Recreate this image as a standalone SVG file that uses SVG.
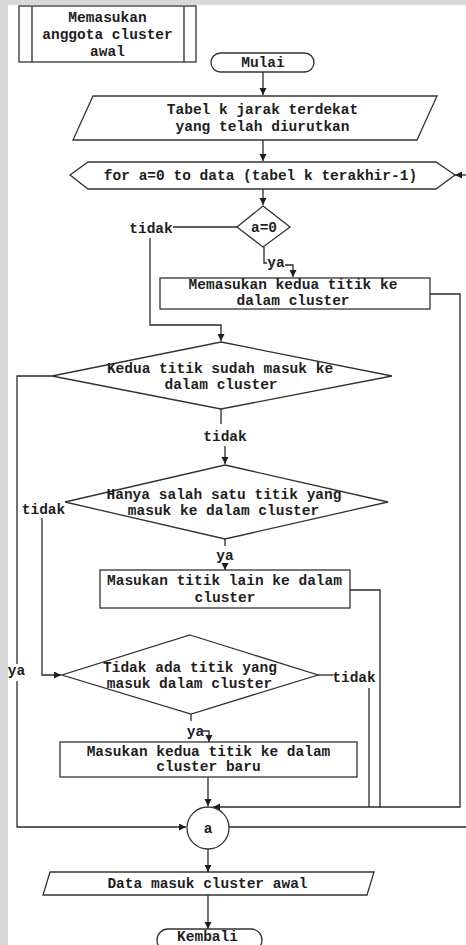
<svg xmlns="http://www.w3.org/2000/svg" width="466" height="945" viewBox="0 0 466 945">
  <style>
    .shape { fill: #ffffff; stroke: #333333; stroke-width: 1.3; }
    .wire { fill: none; stroke: #2a2a2a; stroke-width: 1.3; }
    .arrow { marker-end: url(#head); }
    text { font-family: "Liberation Mono", "Courier New", monospace; font-weight: bold; font-size: 14.5px; fill: #1e1e1e; text-anchor: middle; }
  </style>
  <defs>
    <marker id="head" markerUnits="userSpaceOnUse" markerWidth="8" markerHeight="8" refX="7" refY="3.5" orient="auto">
      <path d="M0,0 L7,3.5 L0,7 z" fill="#1e1e1e"/>
    </marker>
  </defs>

  <!-- page -->
  <rect x="0" y="0" width="466" height="945" fill="#d9d9d9"/>
  <rect x="8" y="5" width="458" height="940" fill="#ffffff"/>

  <!-- connectors -->
  <g id="connectors">
    <path class="wire arrow" d="M263,72 V95"/>
    <path class="wire arrow" d="M263,140 V161"/>
    <path class="wire arrow" d="M263,189 V205"/>
    <path class="wire" d="M237,227 H173"/>
    <path class="wire arrow" d="M150,238 V325 H221 V341"/>
    <path class="wire" d="M264,247 V263 H267"/>
    <path class="wire arrow" d="M285,265 H293 V277"/>
    <path class="wire arrow" d="M430,294 H460 V807 H213"/>
    <path class="wire" d="M52,376 H17 V664"/>
    <path class="wire arrow" d="M17,681 V827 H186"/>
    <path class="wire" d="M221,409 V424"/>
    <path class="wire arrow" d="M225,446 V464"/>
    <path class="wire arrow" d="M42,518 V675 H61"/>
    <path class="wire" d="M225,539 V546"/>
    <path class="wire arrow" d="M225,563 V570"/>
    <path class="wire" d="M350,590 H380 V807"/>
    <path class="wire" d="M318,675 H333"/>
    <path class="wire" d="M369,688 V807"/>
    <path class="wire" d="M191,714 V721"/>
    <path class="wire arrow" d="M203,731 H209 V742"/>
    <path class="wire arrow" d="M208,777 V806"/>
    <path class="wire" d="M229,827 H466"/>
    <path class="wire arrow" d="M466,175 H455"/>
    <path class="wire arrow" d="M208,849 V872"/>
    <path class="wire arrow" d="M208,895 V929"/>
  </g>

  <!-- predefined process -->
  <g id="n-memasukan-awal">
    <rect class="shape" x="19" y="6" width="177" height="56"/>
    <line class="wire" x1="32" y1="6" x2="32" y2="62"/>
    <line class="wire" x1="184" y1="6" x2="184" y2="62"/>
    <text x="107.5" y="22">Memasukan</text>
    <text x="107.5" y="39">anggota cluster</text>
    <text x="107.5" y="56">awal</text>
  </g>

  <g id="n-mulai">
    <rect class="shape" x="211" y="53" width="103" height="19" rx="9.5"/>
    <text x="263" y="67">Mulai</text>
  </g>

  <g id="n-tabel">
    <polygon class="shape" points="93,96 437,96 417,140 73,140"/>
    <text x="262.5" y="114">Tabel k jarak terdekat</text>
    <text x="262.5" y="131">yang telah diurutkan</text>
  </g>

  <g id="n-loop">
    <polygon class="shape" points="70,175 88,162 436,162 455,175 436,189 88,189"/>
    <text x="260.5" y="179.5">for a=0 to data (tabel k terakhir-1)</text>
  </g>

  <g id="n-a0">
    <polygon class="shape" points="263,206 290,227 263,247 237,227"/>
    <text x="264" y="231.5">a=0</text>
    <text x="151" y="232.5">tidak</text>
    <text x="276" y="267">ya</text>
  </g>

  <g id="n-masuk-kedua">
    <rect class="shape" x="160" y="278" width="270" height="31"/>
    <text x="293" y="289">Memasukan kedua titik ke</text>
    <text x="293" y="305">dalam cluster</text>
  </g>

  <g id="n-sudah-masuk">
    <polygon class="shape" points="221,342 392,376 221,409 52,376"/>
    <text x="220" y="372.5">Kedua titik sudah masuk ke</text>
    <text x="221" y="389">dalam cluster</text>
    <text x="225" y="440.5">tidak</text>
  </g>

  <g id="n-salah-satu">
    <polygon class="shape" points="225,465 388,502 225,539 65,502"/>
    <text x="224" y="499">Hanya salah satu titik yang</text>
    <text x="223.5" y="515">masuk ke dalam cluster</text>
    <text x="43.5" y="514">tidak</text>
    <text x="225" y="560">ya</text>
  </g>

  <g id="n-titik-lain">
    <rect class="shape" x="100" y="570" width="250" height="38"/>
    <text x="224.5" y="585">Masukan titik lain ke dalam</text>
    <text x="225" y="602">cluster</text>
  </g>

  <g id="n-tidak-ada">
    <polygon class="shape" points="190,635 318,675 191,714 62,675"/>
    <text x="190" y="671.5">Tidak ada titik yang</text>
    <text x="189.5" y="688">masuk dalam cluster</text>
    <text x="354" y="681.5">tidak</text>
    <text x="16.5" y="675">ya</text>
    <text x="195.5" y="736">ya</text>
  </g>

  <g id="n-cluster-baru">
    <rect class="shape" x="60" y="742" width="297" height="35"/>
    <text x="208.5" y="756">Masukan kedua titik ke dalam</text>
    <text x="208.5" y="771">cluster baru</text>
  </g>

  <g id="n-a">
    <circle class="shape" cx="208" cy="828" r="21"/>
    <text x="208" y="833">a</text>
  </g>

  <g id="n-data-masuk">
    <polygon class="shape" points="50,872 374,872 367,895 43,895"/>
    <text x="207.5" y="888">Data masuk cluster awal</text>
  </g>

  <g id="n-kembali">
    <rect class="shape" x="157" y="929" width="105" height="22" rx="11"/>
    <text x="207.5" y="940.5">Kembali</text>
  </g>
</svg>
